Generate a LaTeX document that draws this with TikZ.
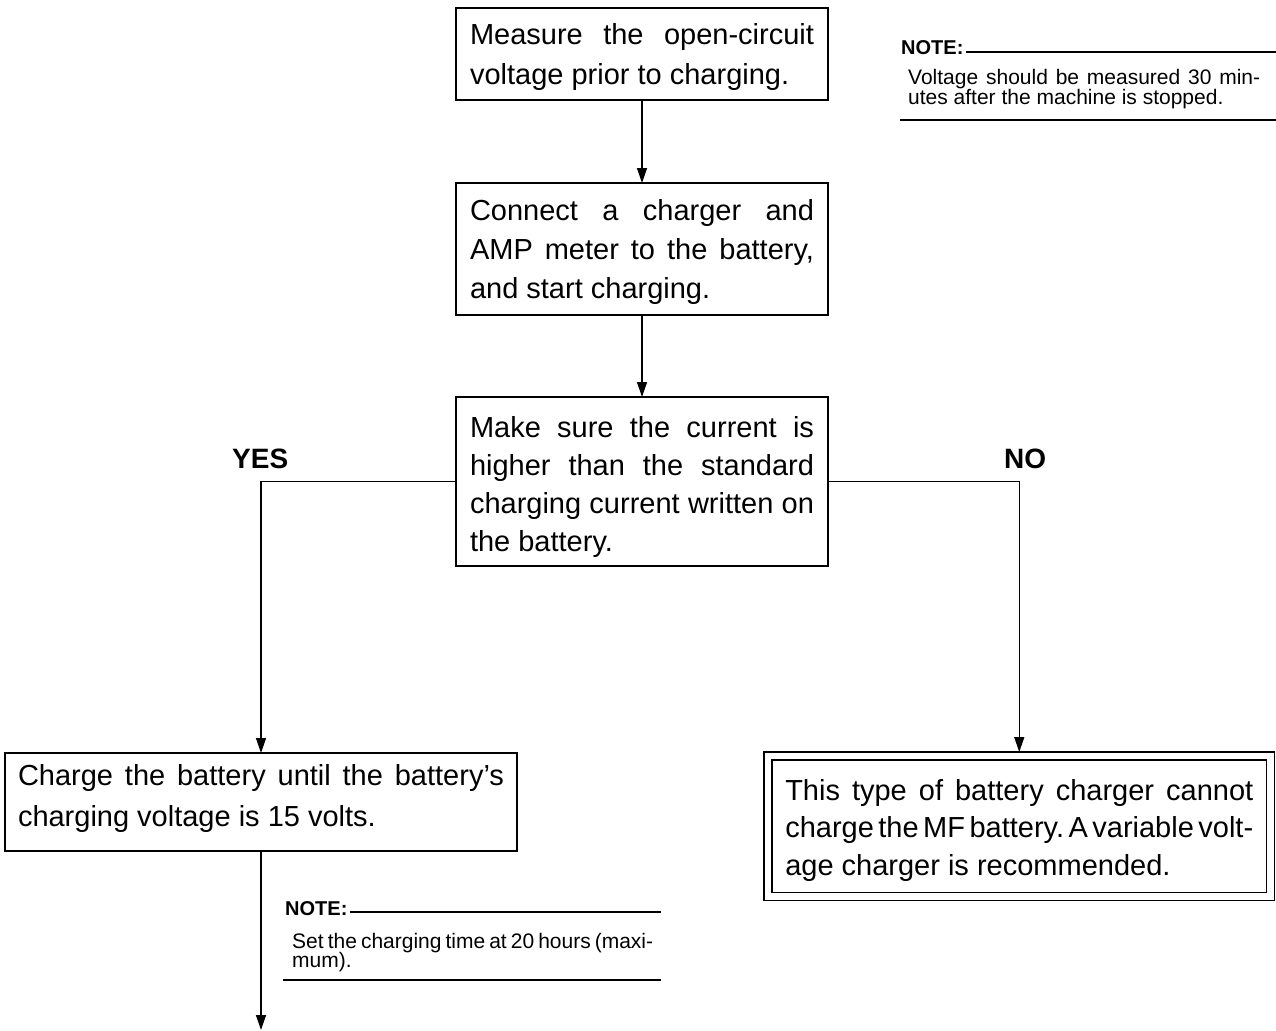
\documentclass[tikz,border=0pt]{standalone}
\usepackage{fontspec}
\setmainfont{Liberation Sans}
\usetikzlibrary{arrows.meta}
\frenchspacing
\newcommand{\jl}[1]{\makebox[\hsize][s]{\spaceskip=0.278em plus 1fil minus 0.15em\relax #1}}
\newcommand{\para}[2]{\vtop{\hsize=#1\parindent=0pt\parskip=0pt\lineskiplimit=-1000pt\frenchspacing #2\par}}
\begin{document}
\begin{tikzpicture}[x=1pt,y=-1pt,
  box/.style={draw, line width=1.4pt, inner ysep=0pt, inner xsep=14pt, outer sep=0pt},
  conn/.style={line width=1.4pt, -{Triangle[length=15pt,width=10pt]}},
  ynlab/.style={font=\fontsize{28}{28}\selectfont\bfseries, inner sep=0pt},
  notehead/.style={font=\fontsize{20}{20}\selectfont\bfseries, inner sep=0pt},
  notetext/.style={inner sep=0pt},
  thinrule/.style={line width=1.6pt},
  thickrule/.style={line width=2.4pt}]
\useasboundingbox (0,0) rectangle (1276,1030);

% main boxes
\node[box, text height=37pt, text depth=55pt, font=\fontsize{29}{40}\selectfont] (b1) at (642,54)
  {\para{344pt}{\jl{Measure the open-circuit}\par voltage prior to charging.}};
\node[box, text height=37pt, text depth=95pt, font=\fontsize{29}{39}\selectfont] (b2) at (642,249)
  {\para{344pt}{\jl{Connect a charger and}\par\jl{AMP meter to the battery,}\par and start charging.}};
\node[box, text height=40pt, text depth=129pt, font=\fontsize{29}{38.3}\selectfont] (b3) at (642,481.5)
  {\para{344pt}{\jl{Make sure the current is}\par\jl{higher than the standard}\par\jl{charging current written on}\par the battery.}};
\node[box, inner xsep=13pt, text height=32pt, text depth=66pt, font=\fontsize{29}{41}\selectfont] (b4) at (261,802)
  {\para{486pt}{\jl{Charge the battery until the battery’s}\par charging voltage is 15 volts.}};
\node[box, double, double distance=6.5pt, inner xsep=17.25pt, text height=44pt, text depth=96.5pt, font=\fontsize{29}{37.5}\selectfont] (b5) at (1019.25,826.25)
  {\para{468pt}{\jl{This type of battery charger cannot}\par\jl{charge the MF battery. A variable volt-}\par age charger is recommended.}};

% connectors
\draw[conn] (b1) -- (b2);
\draw[conn] (b2) -- (b3);
\draw[conn] (b3.west) -| (b4.north);
\draw[conn, shorten >=4pt] (b3.east) -| (b5.north);
\coordinate (bot) at (0,1030);
\draw[conn] (b4.south) -- (b4.south |- bot);

% labels
\node[ynlab, anchor=base west] (yes) at (232,468) {YES};
\node[ynlab, anchor=base west] (no) at (1004,468) {NO};

% top note
\node[notehead, anchor=base west] (n1h) at (901,55) {NOTE:};
\coordinate (n1e) at (1276,52);
\draw[thinrule] ([xshift=2pt]n1h.east |- n1e) -- (n1e);
\node[notetext, anchor=base west, font=\fontsize{21}{19.5}\selectfont] (n1t) at (908,85)
  {\para{352pt}{\jl{Voltage should be measured 30 min-}\par utes after the machine is stopped.}};
\coordinate (n1a) at (900,120);
\coordinate (n1b) at (1276,120);
\draw[thickrule] (n1a) -- (n1b);

% bottom note
\node[notehead, anchor=base west] (n2h) at (285,915) {NOTE:};
\coordinate (n2e) at (661,912);
\draw[thinrule] ([xshift=2pt]n2h.east |- n2e) -- (n2e);
\node[notetext, anchor=base west, font=\fontsize{21}{19.5}\selectfont] (n2t) at (292,948)
  {\para{361pt}{\jl{Set the charging time at 20 hours (maxi-}\par mum).}};
\coordinate (n2a) at (283,980);
\coordinate (n2b) at (661,980);
\draw[thickrule] (n2a) -- (n2b);
\end{tikzpicture}
\end{document}
